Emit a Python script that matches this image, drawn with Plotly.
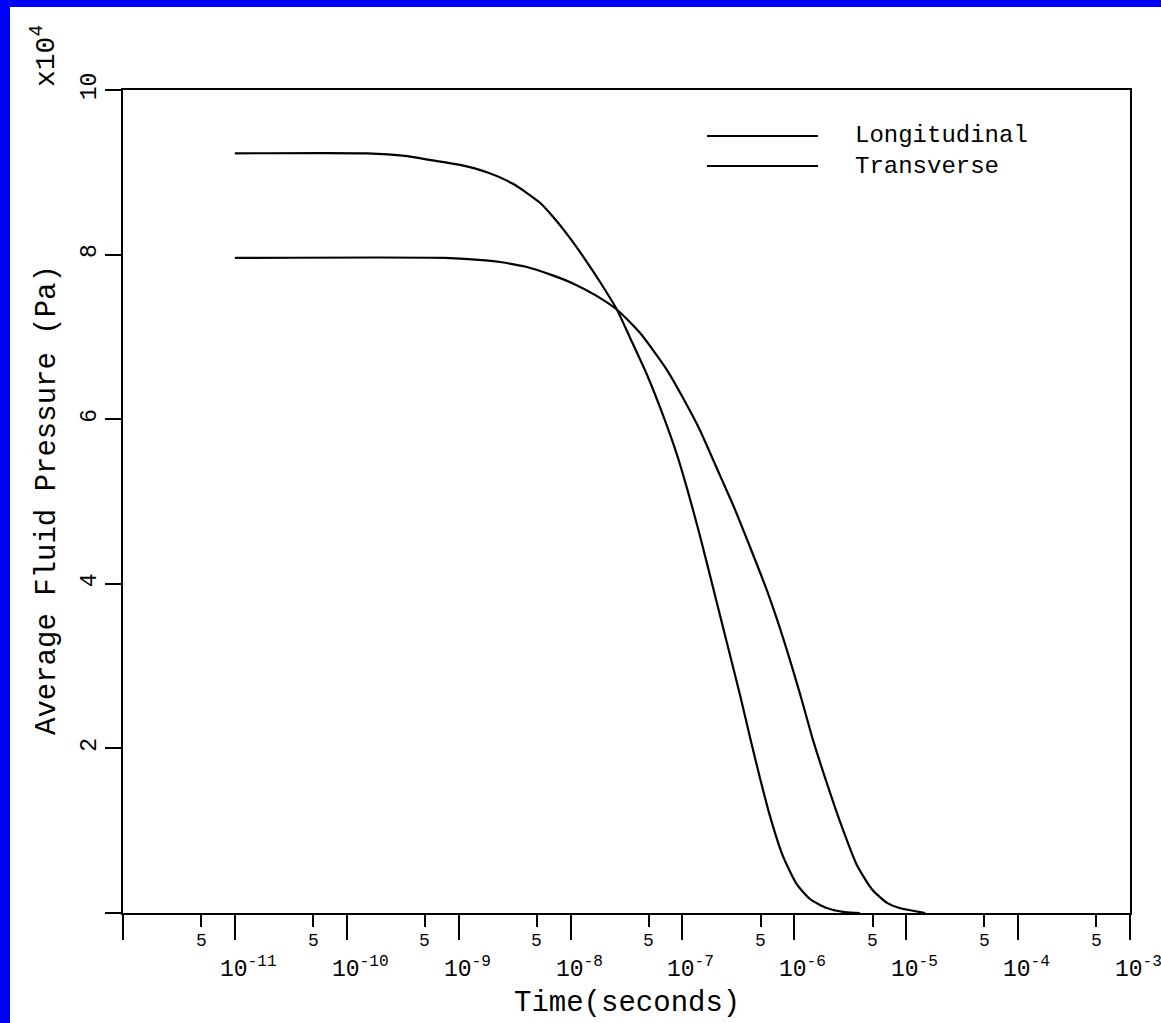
import plotly.graph_objects as go
import math

# ---- data (time in seconds, pressure in units of 1e4 Pa) ----
long_time_s = [1.0e-11, 1.51e-10, 3.31e-10, 5.54e-10, 1.03e-9, 1.79e-9, 3.06e-9, 5.33e-9,
               6.97e-9, 9.89e-9, 1.40e-8, 1.83e-8, 2.60e-8, 3.40e-8, 4.82e-8, 6.70e-8,
               8.93e-8, 1.12e-7, 1.43e-7, 2.03e-7, 2.50e-7, 3.27e-7, 4.01e-7, 4.93e-7,
               6.05e-7, 7.91e-7, 1.05e-6, 1.38e-6, 1.95e-6, 2.83e-6, 3.85e-6]
long_p = [9.23, 9.23, 9.20, 9.15, 9.09, 9.00, 8.86, 8.63, 8.46, 8.20, 7.91, 7.67, 7.33,
          6.99, 6.54, 6.05, 5.57, 5.12, 4.59, 3.77, 3.28, 2.65, 2.14, 1.64, 1.18, 0.69,
          0.35, 0.17, 0.06, 0.01, 0.0]

trans_time_s = [1.0e-11, 7.6e-10, 1.74e-9, 2.34e-9, 4.07e-9, 6.54e-9, 1.05e-8, 1.65e-8,
                2.60e-8, 4.17e-8, 7.26e-8, 1.01e-7, 1.43e-7, 2.16e-7, 2.83e-7, 4.01e-7,
                5.69e-7, 7.9e-7, 1.12e-6, 1.47e-6, 1.95e-6, 2.56e-6, 3.63e-6, 5.0e-6,
                6.8e-6, 8.7e-6, 1.48e-5]
trans_p = [7.96, 7.96, 7.93, 7.91, 7.85, 7.76, 7.65, 7.51, 7.33, 7.05, 6.60, 6.26, 5.87,
           5.32, 4.96, 4.45, 3.92, 3.35, 2.67, 2.10, 1.58, 1.11, 0.58, 0.28, 0.12, 0.06, 0.0]

series_names = ["Longitudinal", "Transverse"]

x_major_exponents = [-12, -11, -10, -9, -8, -7, -6, -5, -4, -3]
x_major_labeled = [-11, -10, -9, -8, -7, -6, -5, -4, -3]
x_minor_vals = [5 * 10.0 ** e for e in range(-12, -3)]
y_tick_vals = [0, 2, 4, 6, 8, 10]
y_tick_text = ["", "2", "4", "6", "8", "10"]

FONT = "Liberation Mono"
W, H = 1161, 1023
ML, MR, MT, MB = 123, 31, 90, 110
PW, PH = W - ML - MR, H - MT - MB


def px_x(p):
    return (p - ML) / PW


def px_y(p):
    return (H - MB - p) / PH


fig = go.Figure()
fig.add_trace(go.Scatter(x=long_time_s, y=long_p, mode="lines", name=series_names[0],
                         line=dict(color="black", width=2.2, shape="spline", smoothing=0.6),
                         showlegend=False))
fig.add_trace(go.Scatter(x=trans_time_s, y=trans_p, mode="lines", name=series_names[1],
                         line=dict(color="black", width=2.2, shape="spline", smoothing=0.6),
                         showlegend=False))

annotations = []
# x tick labels
for e in x_major_labeled:
    annotations.append(dict(x=e, xref="x", y=px_y(968), yref="paper",
                            text="10<sup>%d</sup>" % e, showarrow=False,
                            xanchor="left", yanchor="middle", xshift=-17,
                            font=dict(family=FONT, size=23, color="black")))
for v in x_minor_vals:
    annotations.append(dict(x=math.log10(v), xref="x", y=px_y(941), yref="paper",
                            text="5", showarrow=False, xanchor="center", yanchor="middle",
                            font=dict(family=FONT, size=18, color="black")))
# axis titles
annotations.append(dict(x=px_x(627), y=px_y(1003), xref="paper", yref="paper",
                        text="Time(seconds)", showarrow=False, xanchor="center", yanchor="middle",
                        font=dict(family=FONT, size=29, color="black")))
annotations.append(dict(x=px_x(47), y=px_y(500), xref="paper", yref="paper",
                        text="Average Fluid Pressure (Pa)", showarrow=False, textangle=-90,
                        xanchor="center", yanchor="middle",
                        font=dict(family=FONT, size=29, color="black")))
annotations.append(dict(x=px_x(44), y=px_y(56), xref="paper", yref="paper",
                        text="x10<sup>4</sup>", showarrow=False, textangle=-90,
                        xanchor="center", yanchor="middle",
                        font=dict(family=FONT, size=28, color="black")))
# legend
shapes = [dict(type="rect", xref="paper", yref="paper", x0=px_x(10), x1=px_x(W + 20),
               y0=px_y(H + 20), y1=px_y(7), fillcolor="white", line=dict(width=0), layer="below")]
for i, (name, ly) in enumerate(zip(series_names, [136, 166])):
    shapes.append(dict(type="line", xref="paper", yref="paper", x0=px_x(707), x1=px_x(818),
                       y0=px_y(ly), y1=px_y(ly), line=dict(color="black", width=2.2)))
    annotations.append(dict(x=px_x(853), y=px_y(ly), xref="paper", yref="paper", text=name,
                            showarrow=False, xanchor="left", yanchor="middle",
                            font=dict(family=FONT, size=24, color="black")))

fig.update_layout(
    width=W, height=H,
    margin=dict(l=ML, r=MR, t=MT, b=MB, pad=0),
    paper_bgcolor="#0000FF", plot_bgcolor="white",
    font=dict(family=FONT, color="black"),
    annotations=annotations, shapes=shapes,
    xaxis=dict(type="log", range=[-12, -3], showgrid=False, zeroline=False,
               showline=True, linecolor="black", linewidth=2, mirror=True,
               tickmode="array", tickvals=[10.0 ** e for e in x_major_exponents],
               ticks="outside", ticklen=25, tickwidth=2, tickcolor="black",
               showticklabels=False,
               minor=dict(tickmode="array", tickvals=x_minor_vals, ticks="outside",
                          ticklen=12, tickwidth=2, tickcolor="black", showgrid=False)),
    yaxis=dict(range=[0, 10], showgrid=False, zeroline=False,
               showline=True, linecolor="black", linewidth=2, mirror=True,
               tickmode="array", tickvals=y_tick_vals, ticktext=y_tick_text,
               ticks="outside", ticklen=16, tickwidth=2, tickcolor="black",
               tickangle=-90, tickfont=dict(family=FONT, size=23, color="black")),
)

fig.write_html("out.html", config={"displayModeBar": False},
               post_script="document.body.style.margin='0';document.body.style.overflow='hidden';")
